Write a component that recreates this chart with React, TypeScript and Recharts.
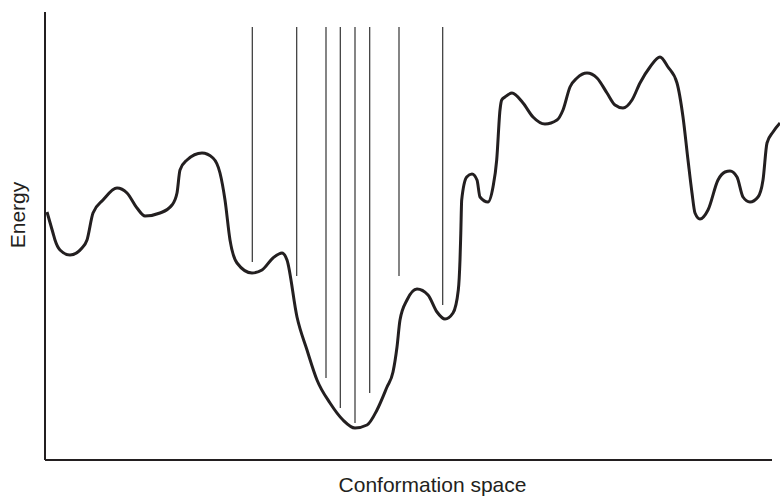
import { LineChart, Line, XAxis, YAxis, ReferenceLine } from 'recharts'

// conformation coordinate (arbitrary units) and energy (arbitrary units)
const conformation = [
  2, 8, 10, 15, 25, 37, 42, 48, 58, 72, 82, 92, 100, 115, 127, 132, 135, 142, 157, 168,
  175, 180, 185, 192, 207, 217, 228, 237, 242, 252, 262, 272, 285, 298, 310, 322, 332, 342, 348, 352,
  355, 362, 372, 383, 392, 400, 408, 413.3, 415, 415.8, 416.7, 421.7, 427, 432, 435, 443, 448, 451.7, 455, 456.7,
  460, 467, 478, 488, 500, 512, 518, 525, 532, 542, 552, 562, 570, 578, 587, 595, 605, 615, 623, 632,
  638, 643, 647, 650, 655, 663, 673, 680, 685, 692, 698, 705, 713, 718, 722, 728, 735,
]

const energy = [
  248, 227, 220, 210, 205, 212, 220, 247, 260, 272, 267, 252, 244, 247, 255, 267, 290, 300, 307, 302,
  287, 260, 220, 197, 187, 190, 202, 207, 200, 143, 110, 80, 57, 40, 32, 35, 50, 73, 88, 113,
  140, 160, 171, 165, 148, 141, 147, 170, 200, 227, 260, 283, 286, 280, 263, 258, 273, 300, 350, 360,
  363, 367, 357, 343, 336, 340, 350, 373, 382, 387, 382, 367, 355, 352, 360, 377, 393, 403, 393, 377,
  343, 300, 267, 247, 241, 250, 280, 288, 289, 283, 263, 258, 263, 280, 317, 328, 337,
]

// sampled conformations drawn as vertical lines from the top
const sampleX = [207.3, 251.7, 281, 295.3, 310, 324.7, 354, 397.7]
const sampleBottom = [198, 184, 82, 52, 37, 67, 184, 155]
const sampleTop = 433

const X_AXIS_END = 727

const data = conformation.map((x, i) => ({ x, energy: energy[i] }))

const INK = '#231f20'
const FONT = '"Liberation Sans", Arial, Helvetica, sans-serif'

export default function App() {
  return (
    <div style={{ position: 'absolute', left: 0, top: 0, width: 780, height: 497, background: '#fff' }}>
      <LineChart width={780} height={497} data={data} margin={{ top: 12, right: 0, bottom: 0, left: 0 }}>
        <XAxis
          dataKey="x"
          type="number"
          domain={[0, 735]}
          height={37}
          axisLine={false}
          tick={false}
          tickLine={false}
          label={{
            value: 'Conformation space',
            position: 'insideBottom',
            offset: 5,
            dx: 20,
            style: { fontFamily: FONT, fontSize: 21, fill: INK },
          }}
        />
        <YAxis
          type="number"
          domain={[0, 448]}
          width={45}
          axisLine={{ stroke: INK, strokeWidth: 2 }}
          tick={false}
          tickLine={false}
          label={{
            value: 'Energy',
            position: 'center',
            angle: -90,
            dx: -5,
            dy: -21,
            style: { fontFamily: FONT, fontSize: 21, fill: INK },
          }}
        />
        <ReferenceLine
          segment={[{ x: 0, y: 0 }, { x: X_AXIS_END, y: 0 }]}
          stroke={INK}
          strokeWidth={2}
        />
        {sampleX.map((x, i) => (
          <ReferenceLine
            key={`s-${i}`}
            segment={[{ x, y: sampleTop }, { x, y: sampleBottom[i] }]}
            stroke="#333"
            strokeWidth={1.2}
          />
        ))}
        <Line
          type="monotone"
          dataKey="energy"
          stroke={INK}
          strokeWidth={3}
          dot={false}
          isAnimationActive={false}
        />
      </LineChart>
    </div>
  )
}
